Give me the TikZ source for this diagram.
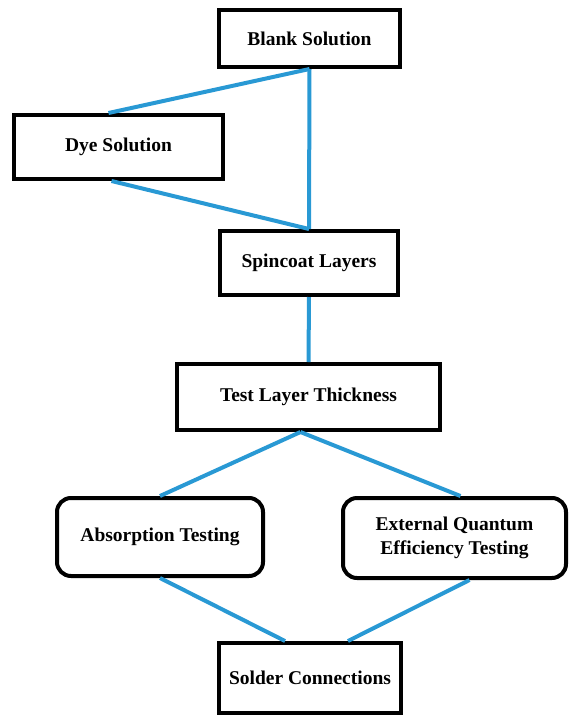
\documentclass[tikz,border=0pt]{standalone}
\usepackage{fontspec}
\setmainfont{Liberation Serif}
\definecolor{linkblue}{rgb}{0.16, 0.60, 0.83}

\begin{document}
\begin{tikzpicture}[x=1pt,y=-1pt,
    box/.style={draw,line width=4pt,inner sep=0pt,align=center,
      font=\bfseries\fontsize{19.5}{24}\selectfont},
    rbox/.style={box,rounded corners=14pt},
    link/.style={linkblue,line width=4pt}]
    \useasboundingbox (0,0) rectangle (569,716);
    % Boxes
    \node[box,minimum width=181,minimum height=57] (blank) at (309.5,38.5) {Blank Solution};
    \node[box,minimum width=209,minimum height=64] (dye) at (118.5,147) {Dye Solution};
    \node[box,minimum width=178,minimum height=64] (spin) at (309,263) {Spincoat Layers};
    \node[box,minimum width=263,minimum height=66] (test) at (308.5,397) {Test Layer Thickness};
    \node[rbox,minimum width=206,minimum height=78] (absorb) at (160,537) {Absorption Testing};
    \node[rbox,minimum width=223,minimum height=80] (eqe) at (454.5,538) {External Quantum\\Efficiency Testing};
    \node[box,minimum width=182,minimum height=70] (solder) at (310,678) {Solder Connections};
    % Links
    \draw[link] (blank.south) -- ([xshift=-10pt]dye.north);
    \draw[link] (blank.south) -- (spin.north);
    \draw[link] ([xshift=-7pt]dye.south) -- (spin.north);
    \draw[link] (spin.south) -- (test.north);
    \draw[link] ([xshift=-8pt]test.south) -- (absorb.north);
    \draw[link] ([xshift=-8pt]test.south) -- ([xshift=6pt]eqe.north);
    \draw[link] (absorb.south) -- ([xshift=-25pt]solder.north);
    \draw[link] ([xshift=15pt]eqe.south) -- ([xshift=38pt]solder.north);
\end{tikzpicture}
\end{document}
